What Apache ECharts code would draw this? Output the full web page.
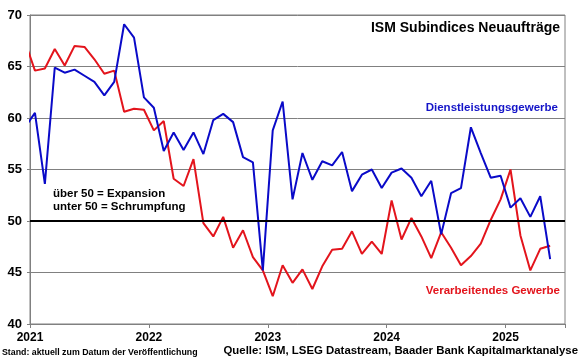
<!DOCTYPE html>
<html>
<head>
<meta charset="utf-8">
<script src="https://cdn.jsdelivr.net/npm/echarts@6/dist/echarts.min.js"></script>
<style>
html,body{margin:0;padding:0;background:#fff;}
#c{width:580px;height:359px;}
</style>
</head>
<body>
<div id="c"></div>
<script>
// Monthly observations, Dec 2020 .. May 2025 (Dec 2020 lies left of the axis start and is clipped)
var months = [
 "2020-12",
 "2021-01","2021-02","2021-03","2021-04","2021-05","2021-06","2021-07","2021-08","2021-09","2021-10","2021-11","2021-12",
 "2022-01","2022-02","2022-03","2022-04","2022-05","2022-06","2022-07","2022-08","2022-09","2022-10","2022-11","2022-12",
 "2023-01","2023-02","2023-03","2023-04","2023-05","2023-06","2023-07","2023-08","2023-09","2023-10","2023-11","2023-12",
 "2024-01","2024-02","2024-03","2024-04","2024-05","2024-06","2024-07","2024-08","2024-09","2024-10","2024-11","2024-12",
 "2025-01","2025-02","2025-03","2025-04","2025-05"
];
var dienstleistung = [
 59.1,
 60.5,53.6,64.9,64.4,64.7,64.1,63.5,62.2,63.5,69.1,67.8,62.0,
 61.0,56.8,58.6,56.9,58.6,56.5,59.8,60.4,59.6,56.2,55.7,45.2,
 58.8,61.6,52.1,56.6,54.0,55.8,55.4,56.7,52.9,54.5,55.0,53.2,
 54.7,55.1,54.2,52.4,53.9,48.7,52.7,53.2,59.1,56.6,54.2,54.4,
 51.3,52.2,50.4,52.4,46.3
];
var verarbeitend = [
 67.4,
 64.6,64.8,66.7,65.1,67.0,66.9,65.7,64.3,64.6,60.6,60.9,60.8,
 58.8,59.7,54.1,53.4,56.0,49.8,48.5,50.4,47.4,49.1,46.5,45.2,
 42.7,45.7,44.0,45.3,43.4,45.6,47.2,47.3,49.0,46.8,48.0,46.8,
 52.0,48.2,50.3,48.5,46.4,48.9,47.4,45.7,46.6,47.8,50.1,52.1,
 55.0,48.6,45.2,47.3,47.6
];
var yearLabels = ["2021","2022","2023","2024","2025"];
var yTicks = [40,45,50,55,60,65,70];

// position of each month on the month-count axis (mid-month; Jan 2021 = 0.5)
function toXY(vals){
  return vals.map(function(v,i){ return [i - 0.5, v]; });
}

var FONT = '"Liberation Sans", Arial, sans-serif';
var chart = echarts.init(document.getElementById('c'), null, {renderer:'canvas'});
chart.setOption({
  animation:false,
  backgroundColor:'#ffffff',
  grid:{left:30,right:15,top:15,bottom:35,show:true,borderColor:'#808080',borderWidth:1,backgroundColor:'transparent'},
  xAxis:{
    type:'value',min:0,max:54,interval:12,
    axisLine:{show:true,lineStyle:{color:'#808080',width:1}},
    axisTick:{show:true,length:4,lineStyle:{color:'#808080'}},
    splitLine:{show:false},
    axisLabel:{
      color:'#000',fontFamily:FONT,fontWeight:'bold',fontSize:12,margin:8,
      formatter:function(v){ var k=Math.round(v/12); return yearLabels[k]!==undefined?yearLabels[k]:''; }
    }
  },
  yAxis:{
    type:'value',min:yTicks[0],max:yTicks[yTicks.length-1],interval:5,
    axisLine:{show:true,lineStyle:{color:'#808080',width:1}},
    axisTick:{show:true,length:3,lineStyle:{color:'#808080'}},
    splitLine:{show:true,lineStyle:{color:'#808080',width:1}},
    axisLabel:{color:'#000',fontFamily:FONT,fontWeight:'bold',fontSize:13,margin:8}
  },
  series:[
    {
      name:'Verarbeitendes Gewerbe',type:'line',data:toXY(verarbeitend),
      showSymbol:false,symbol:'none',clip:true,
      lineStyle:{color:'#e3141c',width:2},
      markLine:{silent:true,symbol:'none',label:{show:false},
        lineStyle:{color:'#000',width:2,type:'solid'},
        data:[{yAxis:50}]}
    },
    {
      name:'Dienstleistungsgewerbe',type:'line',data:toXY(dienstleistung),
      showSymbol:false,symbol:'none',clip:true,
      lineStyle:{color:'#0a0ac8',width:2}
    }
  ],
  graphic:[
    {type:'text',right:20,top:21,style:{text:'ISM Subindices Neuaufträge',fill:'#000',font:'bold 14px '+FONT}},
    {type:'text',right:22,top:102,style:{text:'Dienstleistungsgewerbe',fill:'#1414c8',font:'bold 11.5px '+FONT}},
    {type:'text',right:20,top:285,style:{text:'Verarbeitendes Gewerbe',fill:'#e3141c',font:'bold 11.5px '+FONT}},
    {type:'text',left:53,top:188,style:{text:'über 50 = Expansion',fill:'#000',font:'bold 11.5px '+FONT}},
    {type:'text',left:53,top:201,style:{text:'unter 50 = Schrumpfung',fill:'#000',font:'bold 11.5px '+FONT}},
    {type:'text',left:2,top:348,style:{text:'Stand: aktuell zum Datum der Veröffentlichung',fill:'#000',font:'bold 8.8px '+FONT}},
    {type:'text',right:2,top:345,style:{text:'Quelle: ISM, LSEG Datastream, Baader Bank Kapitalmarktanalyse',fill:'#000',font:'bold 11.4px '+FONT}}
  ]
});
</script>
</body>
</html>
